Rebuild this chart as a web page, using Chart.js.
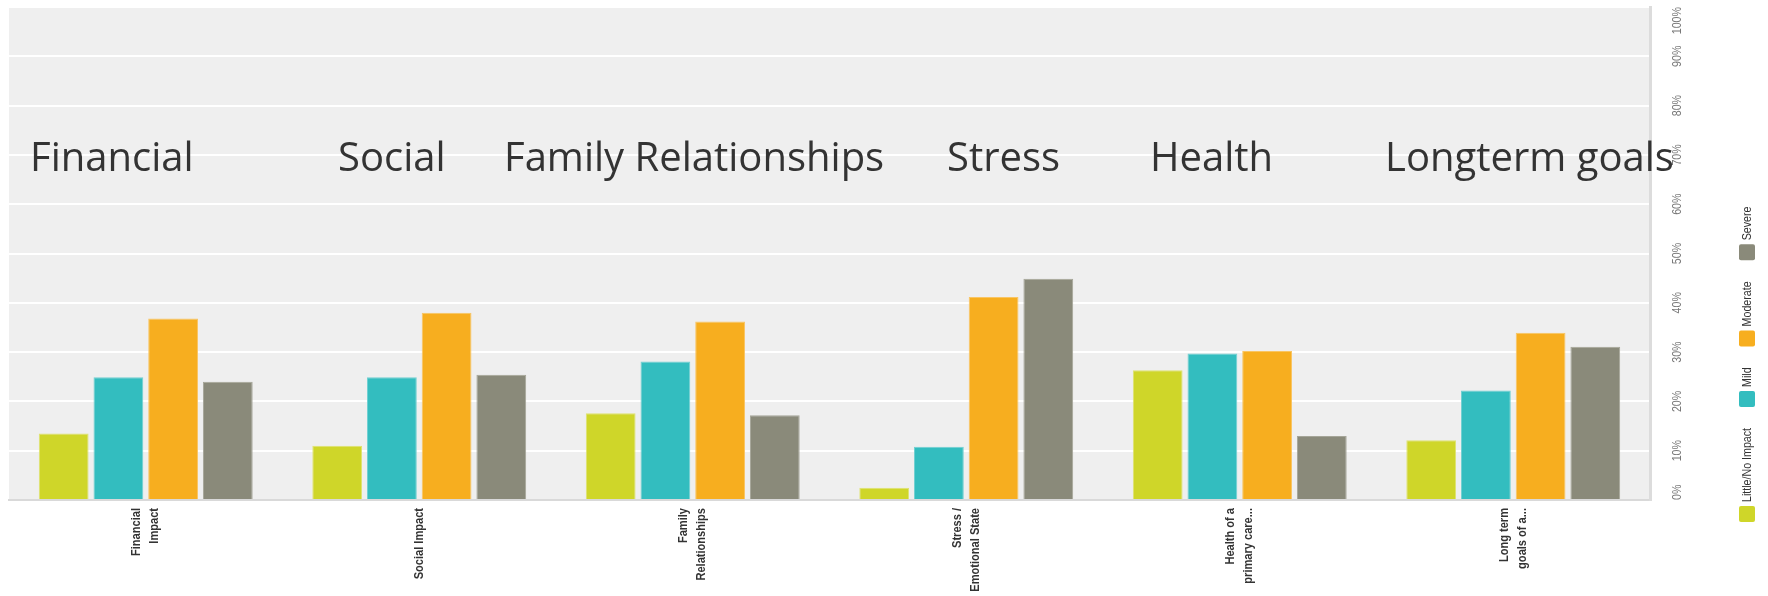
<!DOCTYPE html>
<html>
<head>
<meta charset="utf-8">
<script src="https://cdn.jsdelivr.net/npm/chart.js@4.4.1/dist/chart.umd.min.js"></script>
<style>
  html, body { margin: 0; padding: 0; background: #fff; }
</style>
</head>
<body>
<canvas id="graficoImpacto" width="1768" height="596"></canvas>
<script>
// Dados do gráfico
const categories = [
  ['Financial', 'Impact'],
  ['Social Impact'],
  ['Family', 'Relationships'],
  ['Stress /', 'Emotional State'],
  ['Health of a', 'primary care...'],
  ['Long term', 'goals of a...']
];
const seriesNames = ['Little/No Impact', 'Mild', 'Moderate', 'Severe'];
const littleNo = [13.5, 11.0, 17.6, 2.5, 26.3, 12.1];
const mild = [24.9, 24.9, 28.1, 10.8, 29.7, 22.2];
const moderate = [36.8, 38.0, 36.2, 41.2, 30.2, 33.9];
const severe = [24.0, 25.4, 17.2, 44.9, 13.0, 31.1];
const yTicks = [0, 10, 20, 30, 40, 50, 60, 70, 80, 90, 100];
const topicTitles = ['Financial', 'Social', 'Family Relationships', 'Stress', 'Health', 'Longterm goals'];

// sem fonte "narrow" instalada: Liberation Sans comprimida na direção do texto
const NARROW = 0.82;
const sans = "'Liberation Sans', Arial, sans-serif";

function textoVertical(ctx, txt, x, y, align) {
  ctx.save();
  ctx.translate(x, y);
  ctx.rotate(-Math.PI / 2);
  ctx.scale(NARROW, 1);
  ctx.textAlign = align;
  ctx.textBaseline = 'middle';
  ctx.fillText(txt, 0, 0);
  ctx.restore();
}

// fundo cinza da área do gráfico
const panelPlugin = {
  id: 'panel',
  beforeDraw(chart) {
    const { ctx, chartArea: a } = chart;
    ctx.save();
    ctx.fillStyle = '#efefef';
    ctx.fillRect(a.left, a.top, a.right - a.left, a.bottom - a.top);
    ctx.restore();
  }
};

// rótulos girados: eixo x, eixo y, legenda e títulos grandes
const labelsPlugin = {
  id: 'rotatedLabels',
  afterDraw(chart) {
    const { ctx, chartArea: a } = chart;
    const x = chart.scales.x;
    const y = chart.scales.y;

    // eixo x
    ctx.save();
    ctx.font = 'bold 13.5px ' + sans;
    ctx.fillStyle = '#333';
    const lh = 18;
    chart.data.labels.forEach((lines, i) => {
      const cx = x.getPixelForValue(i);
      lines.forEach((line, j) => {
        const off = (j - (lines.length - 1) / 2) * lh;
        textoVertical(ctx, line, cx + off, a.bottom + 8, 'right');
      });
    });
    ctx.restore();

    // eixo y (direita)
    ctx.save();
    ctx.font = '13px ' + sans;
    ctx.fillStyle = '#777';
    yTicks.forEach(v => {
      const txt = v + '%';
      const w = ctx.measureText(txt).width * NARROW;
      let cy = y.getPixelForValue(v);
      cy = Math.min(Math.max(cy, a.top + w / 2), a.bottom - w / 2);
      textoVertical(ctx, txt, a.right + 27, cy, 'center');
    });
    ctx.restore();

    // legenda vertical
    ctx.save();
    ctx.font = '13px ' + sans;
    let pos = a.bottom + 22;
    const bx = a.right + 89;
    chart.data.datasets.forEach(ds => {
      ctx.fillStyle = ds.backgroundColor;
      ctx.beginPath();
      ctx.roundRect(bx, pos - 16, 16, 16, 2);
      ctx.fill();
      const start = pos - 20;
      ctx.fillStyle = '#333';
      textoVertical(ctx, ds.label, bx + 8, start, 'left');
      pos = start - ctx.measureText(ds.label).width * NARROW - 21;
    });
    ctx.restore();

    // títulos grandes sobre os grupos
    const titleX = [30, 338, 504, 947, 1150, 1385];
    ctx.save();
    ctx.font = "40px 'Open Sans', 'Noto Sans', sans-serif";
    ctx.fillStyle = '#333';
    ctx.textAlign = 'left';
    ctx.textBaseline = 'alphabetic';
    topicTitles.forEach((t, i) => ctx.fillText(t, titleX[i], 171));
    ctx.restore();
  }
};

const ctxImpacto = document.getElementById('graficoImpacto').getContext('2d');
new Chart(ctxImpacto, {
  type: 'bar',
  data: {
    labels: categories,
    datasets: [
      { label: seriesNames[0], data: littleNo, backgroundColor: '#cfd629', borderColor: '#dfe36f' },
      { label: seriesNames[1], data: mild, backgroundColor: '#33bdbf', borderColor: '#70d0d2' },
      { label: seriesNames[2], data: moderate, backgroundColor: '#f7ae1f', borderColor: '#f9c563' },
      { label: seriesNames[3], data: severe, backgroundColor: '#8a8a7a', borderColor: '#a5a598' }
    ]
  },
  options: {
    responsive: false,
    animation: false,
    layout: { padding: { left: 9, top: 7, right: 118, bottom: 96 } },
    datasets: {
      bar: { categoryPercentage: 0.8, barPercentage: 0.91, borderWidth: 1 }
    },
    plugins: {
      legend: { display: false },
      tooltip: { mode: 'index', intersect: false }
    },
    scales: {
      x: {
        grid: { display: false },
        ticks: { display: false },
        border: { display: true, color: '#d9d9d9', width: 2 },
        afterFit: s => { s.height = 0; }
      },
      y: {
        position: 'right',
        min: 0,
        max: 100,
        ticks: { display: false, stepSize: 10 },
        grid: { color: '#ffffff', lineWidth: 2, drawTicks: false },
        border: { display: true, color: '#dcdcdc', width: 3 },
        afterFit: s => { s.width = 0; }
      }
    }
  },
  plugins: [panelPlugin, labelsPlugin]
});
</script>
</body>
</html>
